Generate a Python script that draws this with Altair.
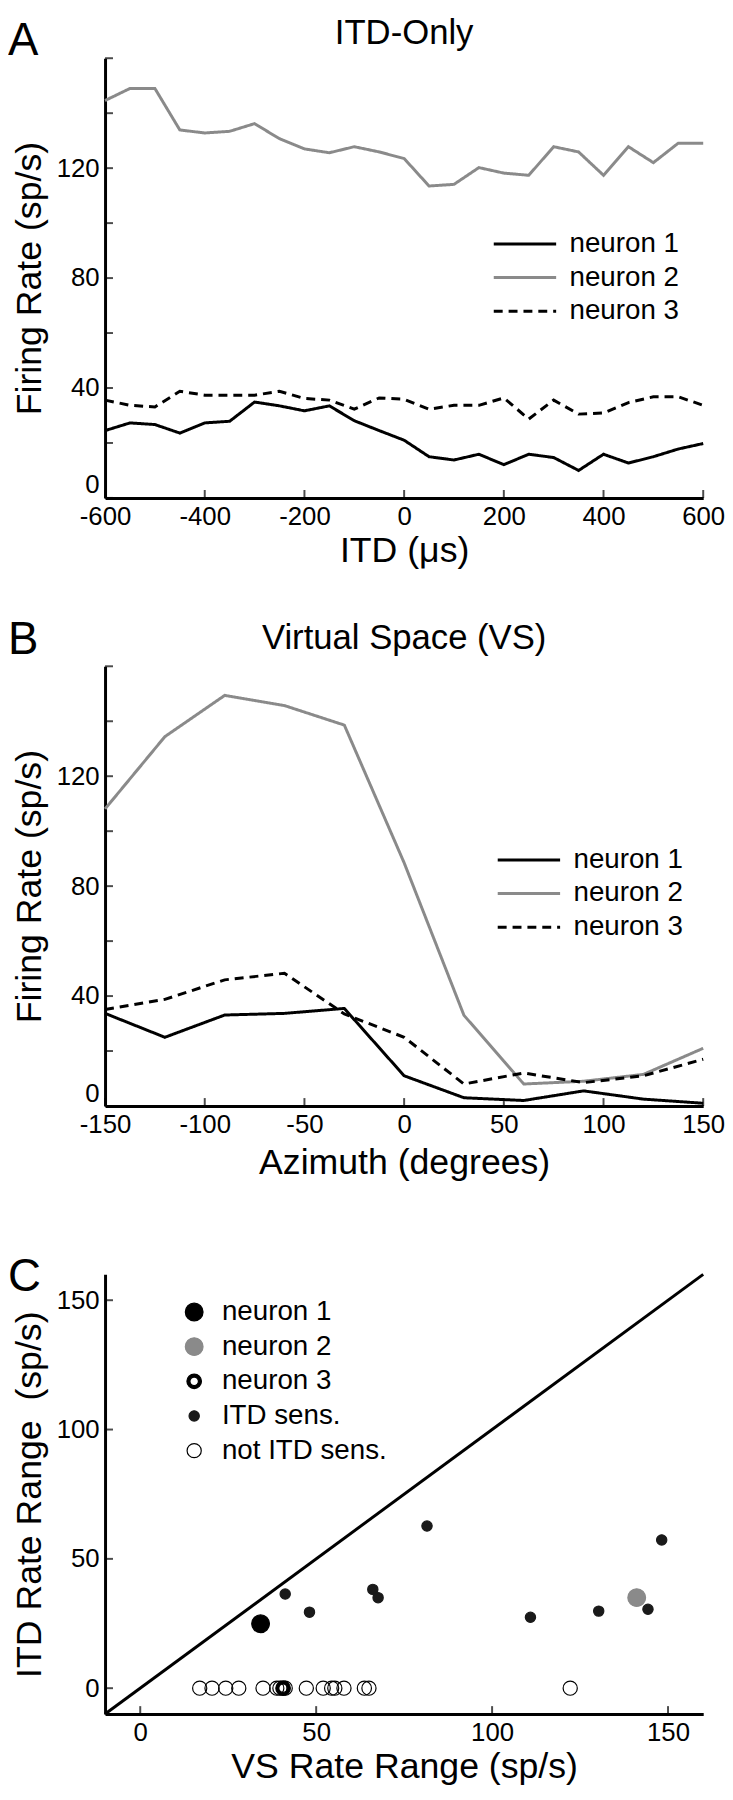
import altair as alt
import pandas as pd

# ---------------- data ----------------
neurons = ["neuron 1", "neuron 2", "neuron 3"]

itd_us = list(range(-600, 601, 50))
itd_n1 = [24.5, 27.3, 26.7, 23.6, 27.3, 27.9, 34.9, 33.5, 31.7, 33.5, 28.1, 24.5, 21.0,
          15.0, 13.8, 15.9, 12.1, 15.9, 14.7, 10.0, 15.9, 12.7, 15.0, 17.8, 19.8]
itd_n2 = [144.6, 149.0, 149.0, 133.9, 132.8, 133.4, 136.2, 130.7, 127.0, 125.6, 127.8, 125.9, 123.5,
          113.5, 114.1, 120.2, 118.2, 117.4, 127.8, 125.9, 117.4, 127.8, 122.0, 129.1, 129.1]
itd_n3 = [35.6, 33.7, 33.1, 38.8, 37.4, 37.4, 37.4, 38.8, 36.2, 35.6, 32.3, 36.4, 35.9,
          32.3, 33.7, 33.7, 36.4, 28.7, 35.6, 30.5, 30.9, 34.7, 36.8, 36.8, 33.7]

az_deg = [-150, -120, -90, -60, -30, 0, 30, 60, 90, 120, 150]
vs_n1 = [33.7, 25.0, 33.1, 33.7, 35.5, 11.0, 3.0, 2.0, 5.5, 2.5, 1.0]
vs_n2 = [108.1, 134.4, 149.4, 145.7, 138.6, 88.5, 33.0, 8.0, 9.0, 11.5, 21.0]
vs_n3 = [35.1, 38.8, 45.9, 48.3, 33.5, 25.0, 8.0, 12.0, 8.5, 11.0, 17.0]

groups_c = ["neuron 1", "neuron 2", "neuron 3", "ITD sens.", "not ITD sens."]
n1_range = (34.2, 24.9)
n2_range = (141.1, 35.0)
n3_range = (40.6, 0.0)
sens_vs = [41.2, 48.1, 66.1, 67.6, 81.5, 110.9, 130.3, 144.3, 148.2]
sens_itd = [36.4, 29.4, 38.2, 35.0, 62.7, 27.4, 29.8, 30.5, 57.3]
insens_vs = [16.9, 20.4, 24.3, 28.0, 34.9, 38.8, 39.7, 41.2, 47.2, 52.0, 54.4, 55.3,
             57.9, 63.7, 65.0, 122.2]
insens_itd = [0.0] * len(insens_vs)
unity = [-10, 160]

# tick values
itd_ticks = list(range(-600, 601, 200))
az_ticks = list(range(-150, 151, 50))
rate_ticks = list(range(0, 161, 20))
range_ticks = [0, 50, 100, 150]

# ---------------- style ----------------
FONT = "Liberation Sans"
GRAY = "#8a8a8a"
W, H = 604, 444
TICK = 8
HYPHEN = "replace(datum.label, '\u2212', '-')"


def circle_path(r, sweep=1):
    return f"M{-r},0A{r},{r} 0 1,{sweep} {r},0A{r},{r} 0 1,{sweep} {-r},0Z"


SHAPE_BIG = circle_path(1.0)
SHAPE_SMALL = circle_path(0.58)
SHAPE_RING = circle_path(0.8)
SHAPE_THICK = circle_path(0.82, 1) + circle_path(0.48, 0)


def text_layer(txt, x, y, size, align):
    return alt.Chart(pd.DataFrame({"t": [txt]})).mark_text(
        font=FONT, fontSize=size, align=align, baseline="alphabetic", color="black"
    ).encode(text="t:N", x=alt.value(x), y=alt.value(y))


def inward_ticks(xenc, yenc, xvals, yvals):
    tx = alt.Chart(pd.DataFrame({"v": xvals})).mark_tick(
        color="black", thickness=2, size=TICK).encode(
        x=xenc("v"), y=alt.value(H - TICK / 2))
    ty = alt.Chart(pd.DataFrame({"v": yvals})).mark_tick(
        color="black", thickness=2, size=TICK).encode(
        y=yenc("v"), x=alt.value(TICK / 2))
    return [tx, ty]


def line_legend(lx, ly):
    return alt.Legend(
        title=None, orient="none", legendX=lx, legendY=ly,
        symbolType="M-2.5,0H1", symbolSize=1296, symbolStrokeWidth=3,
        labelFont=FONT, labelFontSize=28, labelColor="black", labelLimit=0,
        labelOffset=12, rowPadding=0,
    )


def line_panel(df, xfield, xdom, xvals, xtitle, title, lx, ly, ch, ch_y, title_y, tpad):
    leg = line_legend(lx, ly)
    xaxis = alt.Axis(values=xvals, title=xtitle, titlePadding=tpad, labelExpr=HYPHEN)
    yaxis = alt.Axis(values=rate_ticks,
                     labelExpr="datum.value % 40 == 0 && datum.value < 160 ? datum.label : ''",
                     labelBaseline={"condition": {"test": "datum.value == 0", "value": "bottom"},
                                    "value": "middle"},
                     title="Firing Rate (sp/s)", titleX=-76, titleY=H / 2, titleBaseline="middle")
    xenc = lambda f: alt.X(f"{f}:Q", scale=alt.Scale(domain=xdom, nice=False, zero=False), axis=xaxis)
    yenc = lambda f: alt.Y(f"{f}:Q", scale=alt.Scale(domain=[0, 160], nice=False), axis=yaxis)
    base = alt.Chart(df).mark_line(strokeWidth=3).encode(
        x=xenc(xfield), y=yenc("rate"),
        color=alt.Color("neuron:N", scale=alt.Scale(domain=neurons, range=["black", GRAY, "black"]),
                        legend=leg),
        strokeDash=alt.StrokeDash("neuron:N",
                                  scale=alt.Scale(domain=neurons, range=[[1, 0], [1, 0], [9, 6]]),
                                  legend=leg),
    )
    return alt.layer(
        base,
        *inward_ticks(xenc, yenc, xvals, rate_ticks),
        text_layer(ch, -98, ch_y, 46, "left"),
        text_layer(title, W / 2, title_y, 35, "center"),
    ).properties(width=W, height=H)


# panel A
dfA = pd.DataFrame({
    "itd": itd_us * 3,
    "rate": itd_n1 + itd_n2 + itd_n3,
    "neuron": sum([[n] * len(itd_us) for n in neurons], []),
})
panelA = line_panel(dfA, "itd", [-600, 600], itd_ticks, "ITD (\u03bcs)",
                    "ITD-Only", 418, 168, "A", -3, -14, 4)

# panel B
dfB = pd.DataFrame({
    "az": az_deg * 3,
    "rate": vs_n1 + vs_n2 + vs_n3,
    "neuron": sum([[n] * len(az_deg) for n in neurons], []),
})
panelB = line_panel(dfB, "az", [-150, 150], az_ticks, "Azimuth (degrees)",
                    "Virtual Space (VS)", 422, 176, "B", -12, -17, 8)

# panel C
dfC = pd.DataFrame({
    "vs": [n1_range[0], n2_range[0], n3_range[0]] + sens_vs + insens_vs,
    "itd": [n1_range[1], n2_range[1], n3_range[1]] + sens_itd + insens_itd,
    "group": groups_c[:3] + [groups_c[3]] * len(sens_vs) + [groups_c[4]] * len(insens_vs),
})
dfC["order"] = dfC["group"].map({"not ITD sens.": 0, "ITD sens.": 1, "neuron 3": 2,
                                 "neuron 1": 3, "neuron 2": 4})
dfU = pd.DataFrame({"vs": unity, "itd": unity})

xaxisC = alt.Axis(values=range_ticks, title="VS Rate Range (sp/s)", titlePadding=4)
yaxisC = alt.Axis(values=range_ticks, title="ITD Rate Range\u00a0 (sp/s)",
                  titleX=-76, titleY=H / 2, titleBaseline="middle")
xencC = lambda f: alt.X(f"{f}:Q", scale=alt.Scale(domain=[-10, 160], nice=False, zero=False), axis=xaxisC)
yencC = lambda f: alt.Y(f"{f}:Q", scale=alt.Scale(domain=[-10, 160], nice=False, zero=False), axis=yaxisC)

unity_line = alt.Chart(dfU).mark_line(color="black", strokeWidth=3).encode(x=xencC("vs"), y=yencC("itd"))

legC = alt.Legend(title=None, orient="none", legendX=76, legendY=24,
                  labelFont=FONT, labelFontSize=28, labelColor="black", labelLimit=0,
                  labelOffset=14, rowPadding=7, symbolSize=320, symbolStrokeWidth=1.2,
                  symbolOpacity=1)
pts = alt.Chart(dfC).mark_point(size=320, strokeWidth=1.2, opacity=1, fillOpacity=1,
                                strokeOpacity=1).encode(
    x=xencC("vs"), y=yencC("itd"),
    shape=alt.Shape("group:N", scale=alt.Scale(
        domain=groups_c, range=[SHAPE_BIG, SHAPE_BIG, SHAPE_THICK, SHAPE_SMALL, SHAPE_RING]),
        legend=legC),
    fill=alt.Fill("group:N", scale=alt.Scale(
        domain=groups_c, range=["black", GRAY, "black", "#1a1a1a", "transparent"]), legend=legC),
    stroke=alt.Stroke("group:N", scale=alt.Scale(
        domain=groups_c, range=["black", GRAY, "black", "#1a1a1a", "black"]), legend=legC),
    order=alt.Order("order:Q"),
)
panelC = alt.layer(
    unity_line, pts,
    *inward_ticks(xencC, yencC, range_ticks, range_ticks),
    text_layer("C", -98, 17, 46, "left"),
).properties(width=W, height=H)

chart = alt.vconcat(panelA, panelB, panelC, spacing=170, bounds="flush").resolve_scale(
    color="independent", strokeDash="independent", x="independent", y="independent",
    fill="independent", stroke="independent", shape="independent",
).properties(padding=0).configure(font=FONT).configure_view(stroke=None).configure_axis(
    grid=False, domainColor="black", domainWidth=3, ticks=False,
    labelFont=FONT, labelFontSize=26, labelColor="black", labelPadding=6,
    labelFlush=False, labelOverlap=False,
    titleFont=FONT, titleFontSize=36, titleFontWeight="normal", titleColor="black", titlePadding=2,
)

chart.save("out.html", embed_options={"renderer": "svg", "actions": False})
